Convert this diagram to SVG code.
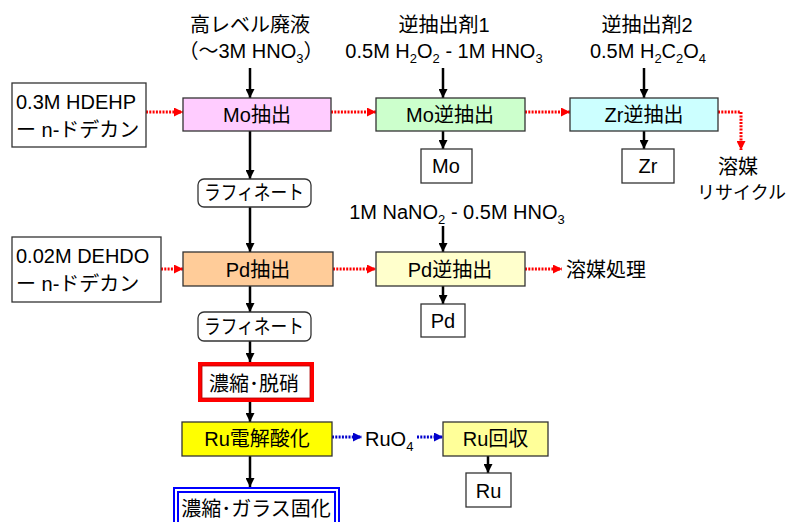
<svg xmlns="http://www.w3.org/2000/svg" width="792" height="522" viewBox="0 0 792 522">
<defs>
<style>
text{font-family:"Liberation Sans","Noto Sans CJK JP",sans-serif;font-size:20px;fill:#000}
.c{text-anchor:middle}
.box{stroke:#333;stroke-width:1.3}
.blk{stroke:#000;stroke-width:2.5;fill:none}
.red{stroke:#FF0000;stroke-width:3;stroke-dasharray:2 1.3;fill:none}
.blu{stroke:#0000CC;stroke-width:3;stroke-dasharray:2 1.3;fill:none}
.sub{font-size:13px}
</style>
<marker id="ab" viewBox="0 0 10 10" refX="10" refY="5" markerWidth="9" markerHeight="9" markerUnits="userSpaceOnUse" orient="auto"><path d="M0,0L10,5L0,10z" fill="#000"/></marker>
<marker id="ar" viewBox="0 0 10 10" refX="10" refY="5" markerWidth="9" markerHeight="9" markerUnits="userSpaceOnUse" orient="auto"><path d="M0,0L10,5L0,10z" fill="#FF0000"/></marker>
<marker id="au" viewBox="0 0 10 10" refX="10" refY="5" markerWidth="9" markerHeight="9" markerUnits="userSpaceOnUse" orient="auto"><path d="M0,0L10,5L0,10z" fill="#0000CC"/></marker>
</defs>
<rect width="792" height="522" fill="#fff"/>

<g id="labels">
<text class="c" x="250" y="32">高レベル廃液</text>
<text class="c" x="251" y="58">（～3M HNO<tspan class="sub" dy="5">3</tspan><tspan dy="-5">）</tspan></text>
<text class="c" x="444" y="32">逆抽出剤1</text>
<text class="c" x="444" y="58">0.5M H<tspan class="sub" dy="5">2</tspan><tspan dy="-5">O</tspan><tspan class="sub" dy="5">2</tspan><tspan dy="-5"> - 1M HNO</tspan><tspan class="sub" dy="5">3</tspan></text>
<text class="c" x="647" y="32">逆抽出剤2</text>
<text class="c" x="648" y="58">0.5M H<tspan class="sub" dy="5">2</tspan><tspan dy="-5">C</tspan><tspan class="sub" dy="5">2</tspan><tspan dy="-5">O</tspan><tspan class="sub" dy="5">4</tspan></text>
<text class="c" x="457" y="219">1M NaNO<tspan class="sub" dy="5">2</tspan><tspan dy="-5"> - 0.5M HNO</tspan><tspan class="sub" dy="5">3</tspan></text>
<text class="c" x="738" y="174">溶媒</text>
<text x="697" y="199" style="font-size:18px">リサイクル</text>
<text x="566" y="277">溶媒処理</text>
<text x="365" y="446">RuO<tspan class="sub" dy="5">4</tspan></text>
</g>

<g id="connectors">
<line class="blk" x1="250" y1="68" x2="250" y2="98" marker-end="url(#ab)"/>
<line class="blk" x1="443" y1="68" x2="443" y2="98" marker-end="url(#ab)"/>
<line class="blk" x1="644" y1="68" x2="644" y2="98" marker-end="url(#ab)"/>
<line class="red" x1="146" y1="112" x2="183" y2="112" marker-end="url(#ar)"/>
<line class="red" x1="331" y1="112" x2="376" y2="112" marker-end="url(#ar)"/>
<line class="red" x1="525" y1="112" x2="570" y2="112" marker-end="url(#ar)"/>
<polyline class="red" points="718,112 741,112 741,150" marker-end="url(#ar)"/>
<line class="blk" x1="443" y1="131" x2="443" y2="149" marker-end="url(#ab)"/>
<line class="blk" x1="644" y1="131" x2="644" y2="149" marker-end="url(#ab)"/>
<line class="blk" x1="250" y1="131" x2="250" y2="179" marker-end="url(#ab)"/>
<line class="blk" x1="250" y1="207" x2="250" y2="252" marker-end="url(#ab)"/>
<line class="red" x1="161" y1="269" x2="183" y2="269" marker-end="url(#ar)"/>
<line class="red" x1="333" y1="269" x2="376" y2="269" marker-end="url(#ar)"/>
<line class="red" x1="525" y1="269" x2="562" y2="269" marker-end="url(#ar)"/>
<line class="blk" x1="443" y1="226" x2="443" y2="252" marker-end="url(#ab)"/>
<line class="blk" x1="443" y1="286" x2="443" y2="304" marker-end="url(#ab)"/>
<line class="blk" x1="250" y1="286" x2="250" y2="312" marker-end="url(#ab)"/>
<line class="blk" x1="250" y1="341" x2="250" y2="362" marker-end="url(#ab)"/>
<line class="blk" x1="250" y1="402" x2="250" y2="422" marker-end="url(#ab)"/>
<line class="blk" x1="250" y1="456" x2="250" y2="487" marker-end="url(#ab)"/>
<line class="blu" x1="332" y1="437" x2="362" y2="437" marker-end="url(#au)"/>
<line class="blu" x1="417" y1="437" x2="443" y2="437" marker-end="url(#au)"/>
<line class="blk" x1="488" y1="456" x2="488" y2="473" marker-end="url(#ab)"/>
</g>

<g id="hdehp">
<rect class="box" x="12" y="83" width="134" height="64" fill="#fff"/>
<text x="16" y="109">0.3M HDEHP</text>
<text x="16" y="137">ー n-ドデカン</text>
</g>
<g id="mo-extract">
<rect class="box" x="183" y="98" width="148" height="33" fill="#FFCCFF"/>
<text class="c" x="257" y="122">Mo抽出</text>
</g>
<g id="mo-strip">
<rect class="box" x="376" y="98" width="149" height="33" fill="#CCFFCC"/>
<text class="c" x="450" y="122">Mo逆抽出</text>
</g>
<g id="zr-strip">
<rect class="box" x="570" y="98" width="148" height="33" fill="#CCFFFF"/>
<text class="c" x="644" y="122">Zr逆抽出</text>
</g>
<g id="mo">
<rect class="box" x="421" y="149" width="51" height="34" fill="#fff"/>
<text class="c" x="446" y="173">Mo</text>
</g>
<g id="zr">
<rect class="box" x="622" y="149" width="52" height="34" fill="#fff"/>
<text class="c" x="648" y="173">Zr</text>
</g>
<g id="raffinate1">
<rect class="box" x="198" y="179" width="113" height="28" rx="6" fill="#fff"/>
<text x="204" y="200" textLength="100" lengthAdjust="spacingAndGlyphs">ラフィネート</text>
</g>
<g id="dehdo">
<rect class="box" x="12" y="237" width="149" height="65" fill="#fff"/>
<text x="16" y="263">0.02M DEHDO</text>
<text x="16" y="291">ー n-ドデカン</text>
</g>
<g id="pd-extract">
<rect class="box" x="183" y="252" width="150" height="34" fill="#FFCC99"/>
<text class="c" x="258" y="277">Pd抽出</text>
</g>
<g id="pd-strip">
<rect class="box" x="376" y="252" width="149" height="34" fill="#FFFFCC"/>
<text class="c" x="450" y="277">Pd逆抽出</text>
</g>
<g id="pd">
<rect class="box" x="421" y="304" width="44" height="33" fill="#fff"/>
<text class="c" x="443" y="328">Pd</text>
</g>
<g id="raffinate2">
<rect class="box" x="198" y="312" width="113" height="29" rx="6" fill="#fff"/>
<text x="204" y="334" textLength="100" lengthAdjust="spacingAndGlyphs">ラフィネート</text>
</g>
<g id="concentrate-denitrate">
<rect x="200" y="364" width="112" height="36" fill="#fff" stroke="#FF0000" stroke-width="4"/>
<rect x="202" y="366" width="108" height="32" fill="none" stroke="#B00000" stroke-width="0.8"/>
<text class="c" x="254" y="391">濃縮･脱硝</text>
</g>
<g id="ru-oxidation">
<rect class="box" x="182" y="422" width="150" height="34" fill="#FFFF00"/>
<text class="c" x="257" y="446">Ru電解酸化</text>
</g>
<g id="ru-recovery">
<rect class="box" x="443" y="422" width="105" height="34" fill="#FFFF99"/>
<text class="c" x="495.5" y="446">Ru回収</text>
</g>
<g id="ru">
<rect class="box" x="466" y="473" width="45" height="34" fill="#fff"/>
<text class="c" x="488.5" y="498">Ru</text>
</g>
<g id="vitrification">
<rect x="174" y="488" width="165" height="50" fill="#fff" stroke="#0000FF" stroke-width="2"/>
<rect x="178" y="492" width="157" height="44" fill="none" stroke="#0000FF" stroke-width="2"/>
<text class="c" x="256" y="516">濃縮･ガラス固化</text>
</g>
</svg>
